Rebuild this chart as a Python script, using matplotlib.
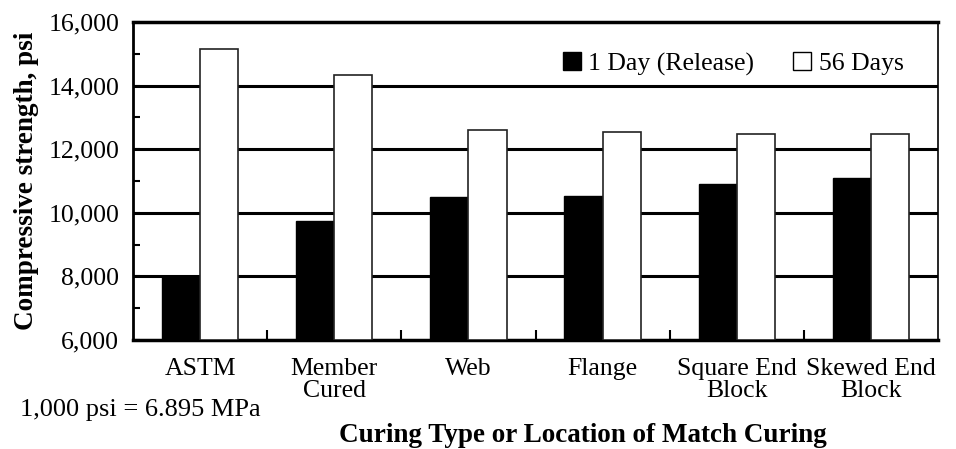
import matplotlib
matplotlib.use("Agg")
import matplotlib.pyplot as plt
import numpy as np
from matplotlib.ticker import MultipleLocator, FuncFormatter
from matplotlib.patches import Patch

categories = ["ASTM", "Member\nCured", "Web", "Flange", "Square End\nBlock", "Skewed End\nBlock"]
day1 = [7990, 9745, 10490, 10540, 10910, 11100]
day56 = [15140, 14330, 12600, 12540, 12490, 12490]
series_names = ["1 Day (Release)", "56 Days"]

plt.rcParams['font.family'] = ['Liberation Serif', 'DejaVu Serif']
FS = 18.5

fig = plt.figure(figsize=(9.56, 4.49), dpi=100)
ax = fig.add_axes([133/956, 1-340/449, (938-133)/956, (340-22)/449])

x = np.arange(len(categories))
w = 0.285
ax.bar(x - w/2, [v - 6000 for v in day1], w, bottom=6000, color='black', edgecolor='black', linewidth=1, zorder=3)
ax.bar(x + w/2, [v - 6000 for v in day56], w, bottom=6000, color='white', edgecolor='#222222', linewidth=1.2, zorder=3)

ax.set_xlim(-0.5, len(categories) - 0.5)
ax.set_ylim(6000, 16000)
ax.yaxis.set_major_locator(MultipleLocator(2000))
ax.yaxis.set_minor_locator(MultipleLocator(1000))
ax.yaxis.set_major_formatter(FuncFormatter(lambda v, p: f"{int(v):,}"))
for yv in [8000, 10000, 12000, 14000]:
    ax.axhline(yv, color='black', lw=2.2, zorder=1)

ax.tick_params(axis='y', which='both', direction='in', labelsize=FS, length=5, width=1.5, pad=10)
ax.set_xticks(x)
ax.set_xticklabels(categories, fontsize=FS, linespacing=1.0)
ax.tick_params(axis='x', which='major', length=0, pad=13)
ax.set_xticks(np.arange(0.5, len(categories) - 0.5, 1), minor=True)
ax.tick_params(axis='x', which='minor', direction='in', length=7, width=1.5)

for s, lw in [('top', 2.5), ('bottom', 2.5), ('left', 2), ('right', 1.2)]:
    ax.spines[s].set_linewidth(lw)
    ax.spines[s].set_color('black')

fig.text(27/956, 1-181/449, "Compressive strength, psi", fontsize=FS + 1, fontweight='bold',
         rotation=90, ha='center', va='center')
fig.text(583/956, 1-448/449, "Curing Type or Location of Match Curing", fontsize=FS + 1,
         fontweight='bold', ha='center', va='bottom')
fig.text(20/956, 1-410/449, "1,000 psi = 6.895 MPa", fontsize=FS + 0.5, ha='left', va='center')

handles = [Patch(facecolor='black', edgecolor='black'),
           Patch(facecolor='white', edgecolor='black')]
ax.legend(handles, series_names, loc='center right', bbox_to_anchor=(0.957, 0.868), ncol=2,
          frameon=False, fontsize=FS, handlelength=0.7, handleheight=0.7,
          handletextpad=0.3, columnspacing=1.5, borderaxespad=0, borderpad=0)

fig.savefig("out.png", dpi=100)
